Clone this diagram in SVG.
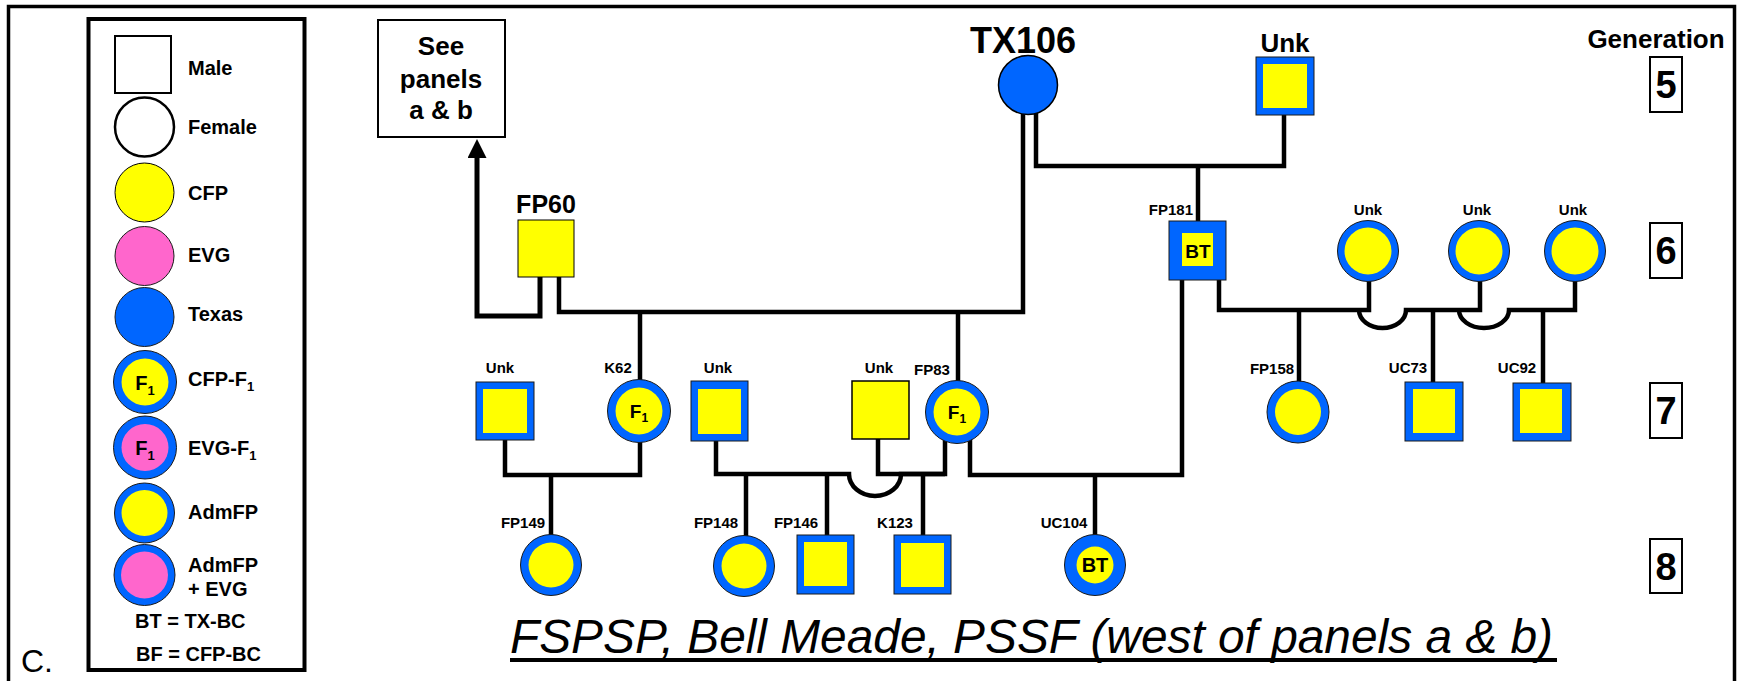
<svg xmlns="http://www.w3.org/2000/svg" width="1746" height="681" viewBox="0 0 1746 681">
<style>
.t{font-family:"Liberation Sans",Arial,sans-serif;font-weight:bold;fill:#000}
.s15{font-size:15px}
.s20{font-size:20px}
.s26{font-size:26px}
.m{text-anchor:middle}
.e{text-anchor:end}
.c{stroke:#000;stroke-width:4.5;fill:none;stroke-linecap:butt;stroke-linejoin:miter}
.bl{fill:#0066ff;stroke:#1a1a1a;stroke-width:1}
.ye{fill:#ffff00}
.yb{fill:#ffff00;stroke:#000;stroke-width:1}
.pk{fill:#ff66cc;stroke:#1a1a1a;stroke-width:1}
.box{fill:#fff;stroke:#000;stroke-width:2}
.gen{font-size:38px}
</style>
<defs>
<marker id="arr" viewBox="0 0 10 10" refX="0" refY="5" markerWidth="19" markerHeight="19" markerUnits="userSpaceOnUse" orient="auto">
<path d="M0,0 L10,5 L0,10 z" fill="#000"/>
</marker>
</defs>
<rect width="1746" height="681" fill="#fff"/>
<rect x="8.5" y="6.5" width="1726" height="720" fill="none" stroke="#000" stroke-width="3.5"/>
<text x="21" y="672" style="font-family:'Liberation Sans',Arial,sans-serif;font-size:32px">C.</text>

<g id="legend">
<rect x="88.5" y="19" width="216" height="651" fill="#fff" stroke="#000" stroke-width="4"/>
<rect x="115" y="36" width="56" height="57" fill="#fff" stroke="#000" stroke-width="2"/>
<text class="t s20" x="188" y="75">Male</text>
<circle cx="144.5" cy="127" r="29.5" fill="#fff" stroke="#000" stroke-width="2.5"/>
<text class="t s20" x="188" y="134">Female</text>
<circle cx="144.5" cy="192.5" r="29.5" class="yb"/>
<text class="t s20" x="188" y="200">CFP</text>
<circle cx="144.5" cy="256" r="29.5" class="pk"/>
<text class="t s20" x="188" y="262">EVG</text>
<circle cx="144.5" cy="317" r="29.5" class="bl"/>
<text class="t s20" x="188" y="321">Texas</text>
<circle cx="145" cy="382" r="31.5" class="bl"/>
<circle cx="145" cy="382" r="23.5" class="ye"/>
<text class="t m" x="145" y="390" style="font-size:20px">F<tspan dy="5" style="font-size:13px">1</tspan></text>
<text class="t s20" x="188" y="386">CFP-F<tspan dy="5" style="font-size:13px">1</tspan></text>
<circle cx="145" cy="447.5" r="31.5" class="bl"/>
<circle cx="145" cy="447.5" r="23.5" fill="#ff66cc"/>
<text class="t m" x="145" y="455" style="font-size:20px">F<tspan dy="5" style="font-size:13px">1</tspan></text>
<text class="t s20" x="188" y="455">EVG-F<tspan dy="5" style="font-size:13px">1</tspan></text>
<circle cx="144.5" cy="513" r="30" class="bl"/>
<circle cx="144.5" cy="513" r="23" class="ye"/>
<text class="t s20" x="188" y="519">AdmFP</text>
<circle cx="144.5" cy="575" r="30.5" class="bl"/>
<circle cx="144.5" cy="575" r="23.5" fill="#ff66cc"/>
<text class="t s20" x="188" y="572">AdmFP</text>
<text class="t s20" x="188" y="596">+ EVG</text>
<text class="t" x="135" y="628" style="font-size:20px">BT = TX-BC</text>
<text class="t" x="136" y="661" style="font-size:20px">BF = CFP-BC</text>
</g>

<g id="connectors">
<path class="c" d="M540,277 V316 H477 V158" style="stroke-width:5" marker-end="url(#arr)"/>
<path class="c" d="M559,277 V312 H1023 V112"/>
<path class="c" d="M640,312 V381"/>
<path class="c" d="M958,312 V381"/>
<path class="c" d="M1036,112 V166 H1284 V115"/>
<path class="c" d="M1198,166 V221"/>
<path class="c" d="M1219,280 V310 H1369 V279"/>
<path class="c" d="M1359,310 A23.5 18 0 0 0 1406,310 H1480 V279"/>
<path class="c" d="M1459,310 A25 18 0 0 0 1509,310 H1575 V279"/>
<path class="c" d="M1299,310 V382"/>
<path class="c" d="M1433,310 V382"/>
<path class="c" d="M1543,310 V383"/>
<path class="c" d="M505,440 V475 H640 V438"/>
<path class="c" d="M551,475 V535"/>
<path class="c" d="M716,441 V474 H849 A26 22 0 0 0 901,474 H945 V436"/>
<path class="c" d="M878,439 V474 H945"/>
<path class="c" d="M746,474 V536"/>
<path class="c" d="M827,474 V535"/>
<path class="c" d="M923,474 V535"/>
<path class="c" d="M970,436 V475 H1182 V280"/>
<path class="c" d="M1095,475 V535"/>
</g>

<g id="see-panels">
<rect x="378" y="20" width="127" height="117" class="box"/>
<text class="t s26 m" x="441" y="55">See</text>
<text class="t s26 m" x="441" y="88">panels</text>
<text class="t s26 m" x="441" y="119">a &amp; b</text>
</g>

<g id="FP60">
<rect x="518" y="220" width="56" height="57" class="yb"/>
<text class="t m" x="546" y="213" style="font-size:25px">FP60</text>
</g>

<g id="TX106">
<circle cx="1028" cy="85" r="29.5" fill="#0066ff" stroke="#000" stroke-width="1.5"/>
<text class="t m" x="1023" y="53" style="font-size:36px">TX106</text>
</g>

<g id="Unk-g5">
<rect x="1256" y="57" width="58" height="58" class="bl"/>
<rect x="1263" y="64" width="44" height="44" class="ye"/>
<text class="t s26 m" x="1285" y="52">Unk</text>
</g>

<g id="FP181">
<rect x="1169" y="221" width="57" height="59" class="bl"/>
<rect x="1182" y="233" width="31" height="33" class="ye"/>
<text class="t m" x="1198" y="258" style="font-size:19px">BT</text>
<text class="t s15 e" x="1193" y="215">FP181</text>
</g>

<g id="Unk-g6a">
<circle cx="1368" cy="251" r="30.5" class="bl"/>
<circle cx="1368" cy="251" r="23.5" class="ye"/>
<text class="t s15 m" x="1368" y="215">Unk</text>
</g>
<g id="Unk-g6b">
<circle cx="1479" cy="251" r="30.5" class="bl"/>
<circle cx="1479" cy="251" r="23.5" class="ye"/>
<text class="t s15 m" x="1477" y="215">Unk</text>
</g>
<g id="Unk-g6c">
<circle cx="1575" cy="251" r="30.5" class="bl"/>
<circle cx="1575" cy="251" r="23.5" class="ye"/>
<text class="t s15 m" x="1573" y="215">Unk</text>
</g>

<g id="Unk-g7a">
<rect x="476" y="382" width="58" height="58" class="bl"/>
<rect x="483" y="389" width="44" height="44" class="ye"/>
<text class="t s15 m" x="500" y="373">Unk</text>
</g>
<g id="K62">
<circle cx="639" cy="411" r="31.5" class="bl"/>
<circle cx="639" cy="411" r="23.5" class="ye"/>
<text class="t m" x="639" y="418" style="font-size:19px">F<tspan dy="4" style="font-size:12px">1</tspan></text>
<text class="t s15 m" x="618" y="373">K62</text>
</g>
<g id="Unk-g7b">
<rect x="691" y="381" width="57" height="60" class="bl"/>
<rect x="698" y="389" width="43" height="45" class="ye"/>
<text class="t s15 m" x="718" y="373">Unk</text>
</g>
<g id="Unk-g7c">
<rect x="852" y="381" width="57" height="58" fill="#ffff00" stroke="#000" stroke-width="1.5"/>
<text class="t s15 m" x="879" y="373">Unk</text>
</g>
<g id="FP83">
<circle cx="957" cy="412" r="31.5" class="bl"/>
<circle cx="957" cy="412" r="23.5" class="ye"/>
<text class="t m" x="957" y="419" style="font-size:19px">F<tspan dy="4" style="font-size:12px">1</tspan></text>
<text class="t s15 m" x="932" y="375">FP83</text>
</g>
<g id="FP158">
<circle cx="1298" cy="412" r="31" class="bl"/>
<circle cx="1298" cy="412" r="23" class="ye"/>
<text class="t s15 m" x="1272" y="374">FP158</text>
</g>
<g id="UC73">
<rect x="1405" y="382" width="58" height="59" class="bl"/>
<rect x="1413" y="389" width="42" height="44" class="ye"/>
<text class="t s15 m" x="1408" y="373">UC73</text>
</g>
<g id="UC92">
<rect x="1513" y="383" width="58" height="58" class="bl"/>
<rect x="1520" y="389" width="42" height="44" class="ye"/>
<text class="t s15 m" x="1517" y="373">UC92</text>
</g>

<g id="FP149">
<circle cx="551" cy="565" r="30.5" class="bl"/>
<circle cx="551" cy="565" r="22.5" class="ye"/>
<text class="t s15 m" x="523" y="528">FP149</text>
</g>
<g id="FP148">
<circle cx="744" cy="566" r="30.5" class="bl"/>
<circle cx="744" cy="566" r="22.5" class="ye"/>
<text class="t s15 m" x="716" y="528">FP148</text>
</g>
<g id="FP146">
<rect x="797" y="535" width="57" height="59" class="bl"/>
<rect x="804" y="542" width="43" height="44" class="ye"/>
<text class="t s15 m" x="796" y="528">FP146</text>
</g>
<g id="K123">
<rect x="894" y="535" width="57" height="59" class="bl"/>
<rect x="901" y="543" width="43" height="44" class="ye"/>
<text class="t s15 m" x="895" y="528">K123</text>
</g>
<g id="UC104">
<circle cx="1095" cy="565" r="30.5" class="bl"/>
<circle cx="1095" cy="565" r="18.5" class="ye"/>
<text class="t m" x="1095" y="572" style="font-size:20px">BT</text>
<text class="t s15 m" x="1064" y="528">UC104</text>
</g>

<g id="generation">
<text class="t s26 m" x="1656" y="48">Generation</text>
<rect x="1650" y="57" width="32" height="55" class="box"/>
<text class="t gen m" x="1666" y="98">5</text>
<rect x="1650" y="223" width="32" height="55" class="box"/>
<text class="t gen m" x="1666" y="264">6</text>
<rect x="1650" y="383" width="32" height="55" class="box"/>
<text class="t gen m" x="1666" y="424">7</text>
<rect x="1650" y="539" width="32" height="54" class="box"/>
<text class="t gen m" x="1666" y="580">8</text>
</g>

<g id="title">
<text x="510" y="653" textLength="1043" lengthAdjust="spacingAndGlyphs" style="font-family:'Liberation Sans',Arial,sans-serif;font-style:italic;font-size:48px">FSPSP, Bell Meade, PSSF (west of panels a &amp; b)</text>
<line x1="510" y1="660" x2="1557" y2="660" stroke="#000" stroke-width="4"/>
</g>
</svg>
